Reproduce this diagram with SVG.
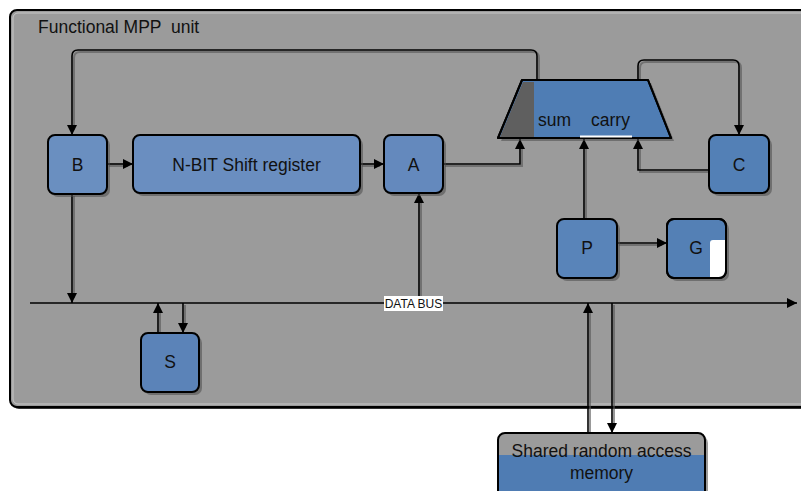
<svg xmlns="http://www.w3.org/2000/svg" width="801" height="491" viewBox="0 0 801 491">
<style>
text{font-family:"Liberation Sans",Arial,sans-serif;fill:#111;font-size:17.5px;}
.lbl{text-anchor:middle;}
.node{stroke:#000;stroke-width:2;}
.sh{fill:#4a4a4a;opacity:0.55;}
.ln{fill:none;stroke:#000;stroke-width:1.6;}
.lsh{fill:none;stroke:#555;stroke-width:2;opacity:0.6;}
</style>
<defs>
<marker id="ahb" viewBox="0 0 10 10" refX="10" refY="5" markerWidth="10" markerHeight="10" markerUnits="userSpaceOnUse" orient="auto">
<path d="M0,0 L10,5 L0,10 z" fill="#000"/>
</marker>
</defs>
<rect x="0" y="0" width="801" height="491" fill="#fff"/>
<g id="container">
<rect x="12" y="12" width="800" height="397" rx="7" fill="#333"/>
<rect x="10" y="10" width="800" height="397" rx="7" fill="#9b9b9b" stroke="#000" stroke-width="2"/>
<rect x="13" y="13" width="800" height="391" rx="5" fill="none" stroke="#c8c8c8" stroke-width="1"/>
<text x="38" y="33" xml:space="preserve">Functional MPP  unit</text>
</g>
<g id="connectors">
<g transform="translate(2,2)">
<path class="lsh" d="M537,80 V56 Q537,50 531,50 H78 Q72,50 72,56 V128"/>
<path class="lsh" d="M638,80 V66 Q638,60 644,60 H733 Q739,60 739,66 V128"/>
<path class="lsh" d="M709,170 H638 V145"/>
<path class="lsh" d="M443,164 H520 V145"/>
<path class="lsh" d="M584,219 V145"/>
<path class="lsh" d="M107,164 H126"/>
<path class="lsh" d="M360,164 H378"/>
<path class="lsh" d="M617,243 H660"/>
<path class="lsh" d="M72,194 V296"/>
<path class="lsh" d="M419,296 V200"/>
<path class="lsh" d="M158,333 V310"/>
<path class="lsh" d="M183,303 V326"/>
<path class="lsh" d="M588,433 V310"/>
<path class="lsh" d="M612,303 V426"/>
</g>
<path class="ln" d="M537,80 V56 Q537,50 531,50 H78 Q72,50 72,56 V135" marker-end="url(#ahb)"/>
<path class="ln" d="M638,80 V66 Q638,60 644,60 H733 Q739,60 739,66 V135" marker-end="url(#ahb)"/>
<path class="ln" d="M709,170 H638 V139" marker-end="url(#ahb)"/>
<path class="ln" d="M443,164 H520 V139" marker-end="url(#ahb)"/>
<path class="ln" d="M584,219 V139" marker-end="url(#ahb)"/>
<path class="ln" d="M107,164 H133" marker-end="url(#ahb)"/>
<path class="ln" d="M360,164 H384" marker-end="url(#ahb)"/>
<path class="ln" d="M617,243 H667" marker-end="url(#ahb)"/>
<path class="ln" d="M30,303 H797" marker-end="url(#ahb)"/>
<path class="ln" d="M72,194 V303" marker-end="url(#ahb)"/>
<path class="ln" d="M419,303 V193" marker-end="url(#ahb)"/>
<path class="ln" d="M158,333 V303" marker-end="url(#ahb)"/>
<path class="ln" d="M183,303 V333" marker-end="url(#ahb)"/>
<path class="ln" d="M588,433 V303" marker-end="url(#ahb)"/>
<path class="ln" d="M612,303 V433" marker-end="url(#ahb)"/>
<rect x="384" y="296" width="59" height="15" fill="#fff"/>
<text x="413.5" y="308" style="font-size:12px;text-anchor:middle">DATA BUS</text>
</g>
<g id="B">
<rect class="sh" x="51" y="138" width="59" height="59" rx="7"/>
<rect class="node" x="48" y="135" width="59" height="59" rx="7" fill="#6a8fc0"/>
<text class="lbl" x="77.5" y="170.5">B</text>
</g>
<g id="shift">
<rect class="sh" x="136" y="138" width="227" height="58" rx="7"/>
<rect class="node" x="133" y="135" width="227" height="58" rx="7" fill="#6a8ec0"/>
<text class="lbl" x="246.5" y="170.5">N-BIT Shift register</text>
</g>
<g id="A">
<rect class="sh" x="387" y="138" width="59" height="58" rx="7"/>
<rect class="node" x="384" y="135" width="59" height="58" rx="7" fill="#6489bd"/>
<text class="lbl" x="413.5" y="170.5">A</text>
</g>
<g id="adder">
<path class="sh" d="M525,83 H651 L674,141 H501 Z"/>
<path d="M522,80 H648 L671,138 H498 Z" fill="#4f7db4" stroke="#000" stroke-width="2" stroke-linejoin="round"/>
<path d="M523,82 H534 V137 H500 Z" fill="#5f5f5f"/>
<path d="M522,80 H648 L671,138 H498 Z" fill="none" stroke="#000" stroke-width="2" stroke-linejoin="round"/>
<rect x="580" y="135.5" width="52" height="2" fill="#fff"/>
<text x="538" y="126">sum</text>
<text x="591" y="126">carry</text>
</g>
<g id="C">
<rect class="sh" x="712" y="138" width="60" height="58" rx="7"/>
<rect class="node" x="709" y="135" width="60" height="58" rx="7" fill="#5380b6"/>
<text class="lbl" x="739" y="170.5">C</text>
</g>
<g id="P">
<rect class="sh" x="560" y="222" width="60" height="59" rx="7"/>
<rect class="node" x="557" y="219" width="60" height="59" rx="7" fill="#5984b9"/>
<text class="lbl" x="587" y="254">P</text>
</g>
<g id="G">
<rect class="sh" x="670" y="222" width="59" height="59" rx="7"/>
<rect class="node" x="667" y="219" width="59" height="59" rx="7" fill="#5480b5"/>
<path d="M713,240 H725 V271 Q725,277 719,277 H710 V243 Q710,240 713,240 Z" fill="#fff"/>
<rect x="667" y="219" width="59" height="59" rx="7" fill="none" stroke="#000" stroke-width="2"/>
<text class="lbl" x="696" y="254">G</text>
</g>
<g id="S">
<rect class="sh" x="144" y="336" width="58" height="59" rx="7"/>
<rect class="node" x="141" y="333" width="58" height="59" rx="7" fill="#5b83b8"/>
<text class="lbl" x="170" y="368">S</text>
</g>
<g id="memory">
<rect class="sh" x="501" y="436" width="207" height="70" rx="7"/>
<rect x="498" y="433" width="207" height="70" rx="7" fill="#9b9b9b"/>
<rect x="499" y="455" width="205" height="48" fill="#4f7cb3"/>
<rect class="node" x="498" y="433" width="207" height="70" rx="7" fill="none"/>
<text class="lbl" x="601.5" y="457">Shared random access</text>
<text class="lbl" x="601.5" y="479">memory</text>
</g>
</svg>
